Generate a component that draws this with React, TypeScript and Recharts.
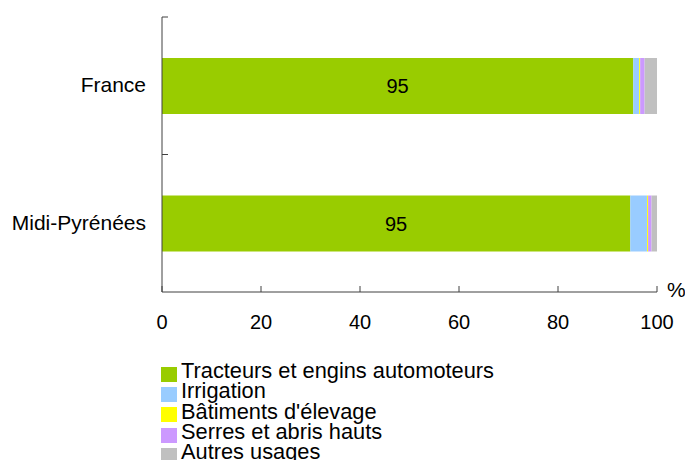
import React from 'react';
import { BarChart, Bar, XAxis, YAxis, LabelList } from 'recharts';

const categories = ['France', 'Midi-Pyrénées'];
const tracteurs = [95.2, 94.6];
const irrigation = [1.2, 3.4];
const batiments = [0.2, 0.2];
const serres = [0.9, 0.7];
const autres = [2.5, 1.1];
const xTicks = [0, 20, 40, 60, 80, 100];

const series = [
  { key: 'tracteurs', name: 'Tracteurs et engins automoteurs', color: '#99CC00', values: tracteurs },
  { key: 'irrigation', name: 'Irrigation', color: '#99CCFF', values: irrigation },
  { key: 'batiments', name: "Bâtiments d'élevage", color: '#FFFF00', values: batiments },
  { key: 'serres', name: 'Serres et abris hauts', color: '#CC99FF', values: serres },
  { key: 'autres', name: 'Autres usages', color: '#C0C0C0', values: autres },
];

const data = categories.map((cat, i) => {
  const row: Record<string, any> = { name: cat };
  series.forEach((s) => {
    row[s.key] = s.values[i];
  });
  return row;
});

const W = 685;
const H = 460;
const TOP = 17;
const LEFT = 162;
const RIGHT = 28;
const X_AXIS_H = 30;
const BOTTOM = 138;
const PLOT_H = H - TOP - BOTTOM - X_AXIS_H;
const AXIS_Y = TOP + PLOT_H;
const BAND = PLOT_H / categories.length;
const AXIS_COLOR = '#404040';
const FONT = 'Arial, "Liberation Sans", sans-serif';

const CategoryTick = ({ y, payload }: any) => (
  <g>
    <line x1={LEFT} x2={LEFT + 6} y1={y - BAND / 2} y2={y - BAND / 2} stroke={AXIS_COLOR} />
    <text x={LEFT - 16} y={y} dy="0.3em" textAnchor="end" fontSize={21} fill="#000" fontFamily={FONT}>
      {payload.value}
    </text>
  </g>
);

const ValueTick = ({ x, payload }: any) => (
  <g>
    <line x1={x} x2={x} y1={AXIS_Y} y2={AXIS_Y - 6} stroke={AXIS_COLOR} />
    <text x={x} y={AXIS_Y + 37} textAnchor="middle" fontSize={20} fill="#000" fontFamily={FONT}>
      {payload.value}
    </text>
  </g>
);

const PercentLabel = (props: any) => {
  const vb = props.viewBox || {};
  return (
    <text x={vb.x + vb.width + 10} y={AXIS_Y + 5} fontSize={21} fill="#000" fontFamily={FONT}>
      %
    </text>
  );
};

export default function App() {
  return (
    <div style={{ position: 'absolute', left: 0, top: 0, width: W, height: H, overflow: 'hidden', background: '#fff' }}>
      <BarChart
        width={W}
        height={H}
        data={data}
        layout="vertical"
        margin={{ top: TOP, right: RIGHT, left: 0, bottom: BOTTOM }}
        barSize={56}
      >
        <XAxis
          type="number"
          domain={[0, 100]}
          ticks={xTicks}
          height={X_AXIS_H}
          axisLine={{ stroke: AXIS_COLOR }}
          tickLine={false}
          tick={<ValueTick />}
          interval={0}
          label={<PercentLabel />}
        />
        <YAxis
          type="category"
          dataKey="name"
          width={LEFT}
          axisLine={{ stroke: AXIS_COLOR }}
          tickLine={false}
          tick={<CategoryTick />}
          interval={0}
        />
        {series.map((s, idx) => (
          <Bar key={s.key} dataKey={s.key} stackId="a" fill={s.color} isAnimationActive={false}>
            {idx === 0 && (
              <LabelList
                dataKey={s.key}
                position="center"
                formatter={(v: any) => Math.round(Number(v))}
                fill="#000"
                fontSize={20}
                fontFamily={FONT}
              />
            )}
          </Bar>
        ))}
      </BarChart>
      <div style={{ position: 'absolute', left: 161, top: 361, fontFamily: FONT, fontSize: 21.8 }}>
        {series.map((s) => (
          <div key={s.key} style={{ height: 20.3, lineHeight: '20px', display: 'flex', alignItems: 'flex-start', whiteSpace: 'nowrap' }}>
            <span style={{ display: 'inline-block', width: 16, height: 15, marginTop: 5.7, background: s.color, marginRight: 4 }} />
            <span>{s.name}</span>
          </div>
        ))}
      </div>
    </div>
  );
}
